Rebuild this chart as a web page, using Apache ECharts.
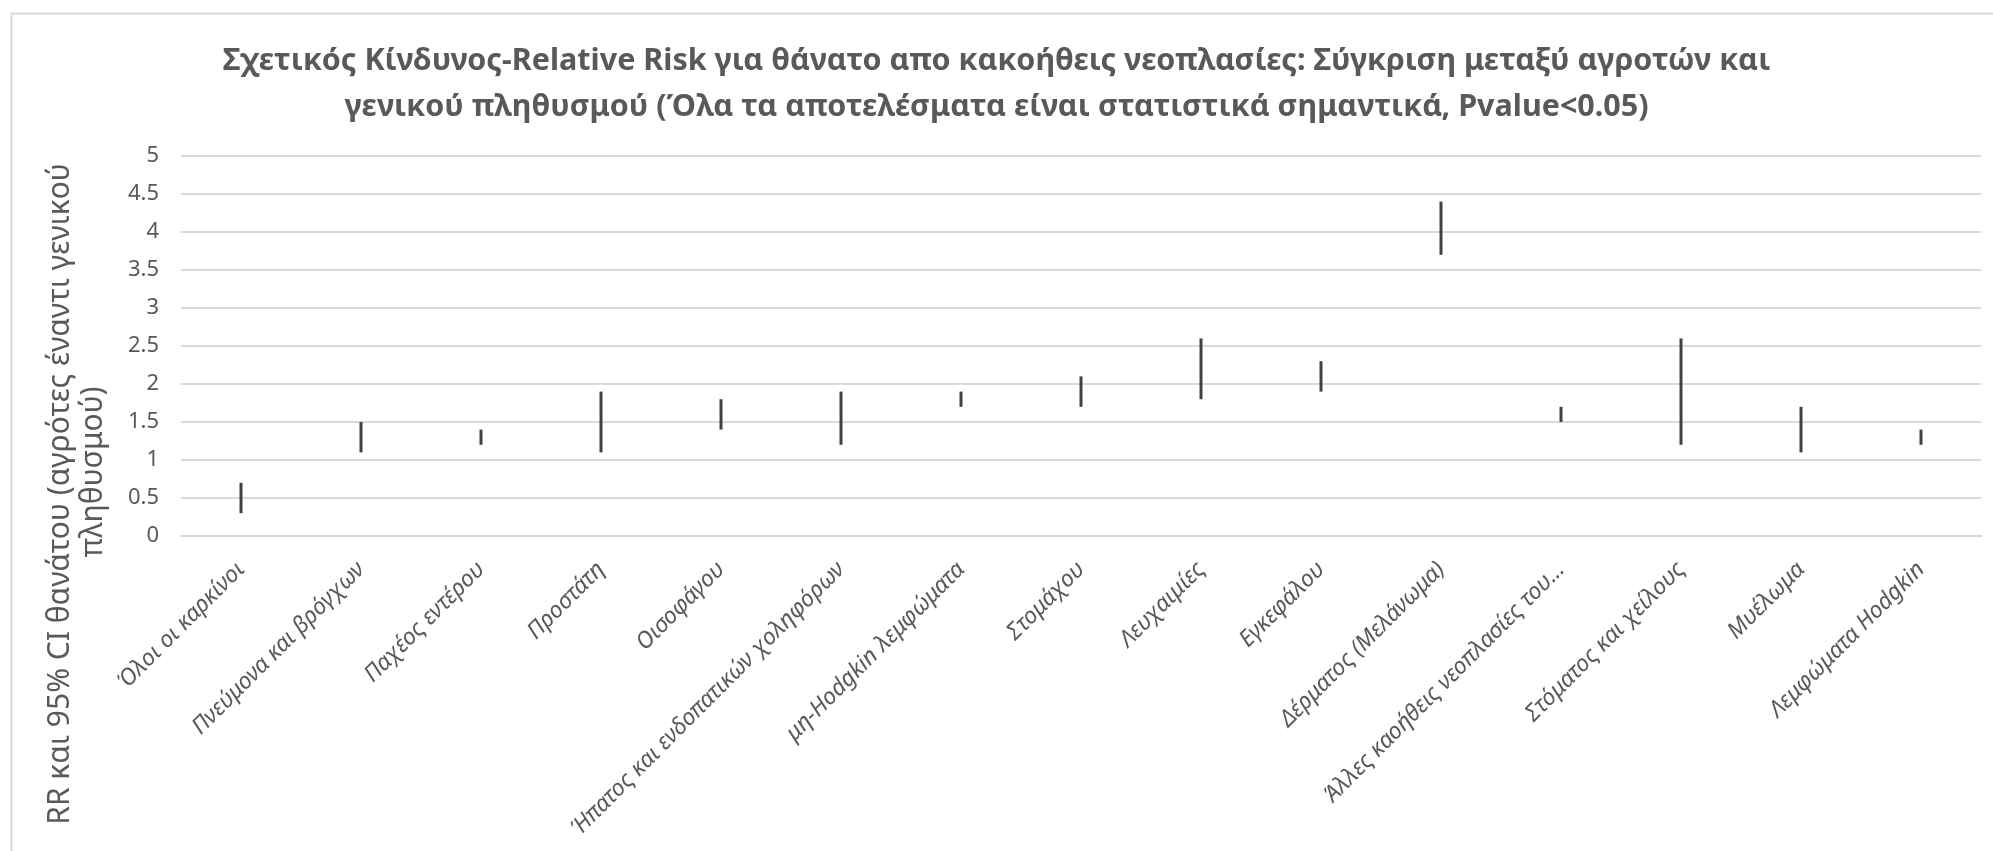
<!DOCTYPE html>
<html>
<head>
<meta charset="utf-8">
<script src="https://cdn.jsdelivr.net/npm/echarts@6/dist/echarts.min.js"></script>
<style>
  html, body { margin: 0; padding: 0; background: #ffffff; }
  #chart { width: 1993px; height: 851px; }
</style>
</head>
<body>
<div id="chart"></div>
<script>
// Cancer sites (category axis)
const categories = [
  'Όλοι οι καρκίνοι',
  'Πνεύμονα και βρόγχων',
  'Παχέος εντέρου',
  'Προστάτη',
  'Οισοφάγου',
  'Ήπατος και ενδοπατικών χοληφόρων',
  'μη-Hodgkin λεμφώματα',
  'Στομάχου',
  'Λευχαιμίες',
  'Εγκεφάλου',
  'Δέρματος (Μελάνωμα)',
  'Άλλες καοήθεις νεοπλασίες του...',
  'Στόματος και χείλους',
  'Μυέλωμα',
  'Λεμφώματα Hodgkin'
];

// 95% CI bounds of the relative risk
const ciLow  = [0.3, 1.1, 1.2, 1.1, 1.4, 1.2, 1.7, 1.7, 1.8, 1.9, 3.7, 1.5, 1.2, 1.1, 1.2];
const ciHigh = [0.7, 1.5, 1.4, 1.9, 1.8, 1.9, 1.9, 2.1, 2.6, 2.3, 4.4, 1.7, 2.6, 1.7, 1.4];

// Value axis ticks
const yMin = 0, yMax = 5, yStep = 0.5;

const titleText = 'Σχετικός Κίνδυνος-Relative Risk για θάνατο απο κακοήθεις νεοπλασίες: Σύγκριση μεταξύ αγροτών και\nγενικού πληθυσμού (Όλα τα αποτελέσματα είναι στατιστικά σημαντικά, Pvalue<0.05)';
const yNameLine1 = 'RR και 95% CI θανάτου (αγρότες έναντι γενικού';
const yNameLine2 = 'πληθυσμού)';

const rangeData = categories.map((c, i) => [i, ciLow[i], ciHigh[i]]);

const chart = echarts.init(document.getElementById('chart'), null, { renderer: 'canvas' });

const textGray = '#595959';
const gridGray = '#d9d9d9';

chart.setOption({
  animation: false,
  backgroundColor: '#ffffff',
  title: {
    text: titleText,
    left: 'center',
    top: 33,
    textStyle: {
      fontFamily: 'Noto Sans',
      fontWeight: 'bold',
      fontSize: 30.5,
      color: textGray,
      lineHeight: 46
    }
  },
  grid: {
    left: 181, right: 12, top: 156, bottom: 315,
    containLabel: false,
    outerBoundsMode: 'none'
  },
  xAxis: {
    type: 'category',
    data: categories,
    axisLine: { show: true, lineStyle: { color: gridGray, width: 2 } },
    axisTick: { show: false },
    axisLabel: {
      interval: 0,
      rotate: 45,
      margin: 30,
      fontFamily: 'Noto Sans',
      fontStyle: 'italic',
      fontSize: 23,
      color: textGray
    }
  },
  yAxis: {
    type: 'value',
    min: yMin,
    max: yMax,
    interval: yStep,
    axisLine: { show: false },
    axisTick: { show: false },
    splitLine: { show: true, lineStyle: { color: gridGray, width: 2 } },
    axisLabel: {
      margin: 22,
      fontFamily: 'Noto Sans',
      fontSize: 22,
      color: textGray
    }
  },
  series: [{
    type: 'custom',
    data: rangeData,
    encode: { x: 0, y: [1, 2] },
    renderItem: function (params, api) {
      const lo = api.coord([api.value(0), api.value(1)]);
      const hi = api.coord([api.value(0), api.value(2)]);
      return {
        type: 'line',
        shape: { x1: lo[0], y1: lo[1], x2: hi[0], y2: hi[1] },
        style: { stroke: '#404040', lineWidth: 3 }
      };
    }
  }],
  graphic: [
    {
      type: 'rect',
      left: 9, top: 11,
      shape: { width: 2000, height: 900 },
      style: { fill: 'none', stroke: gridGray, lineWidth: 2 },
      silent: true
    },
    {
      type: 'text',
      x: 60, y: 494,
      rotation: Math.PI / 2,
      style: {
        text: yNameLine1,
        fontFamily: 'Noto Sans',
        fontSize: 30,
        fill: textGray,
        align: 'center',
        verticalAlign: 'middle'
      }
    },
    {
      type: 'text',
      x: 93, y: 472,
      rotation: Math.PI / 2,
      style: {
        text: yNameLine2,
        fontFamily: 'Noto Sans',
        fontSize: 30,
        fill: textGray,
        align: 'center',
        verticalAlign: 'middle'
      }
    }
  ]
});
</script>
</body>
</html>
